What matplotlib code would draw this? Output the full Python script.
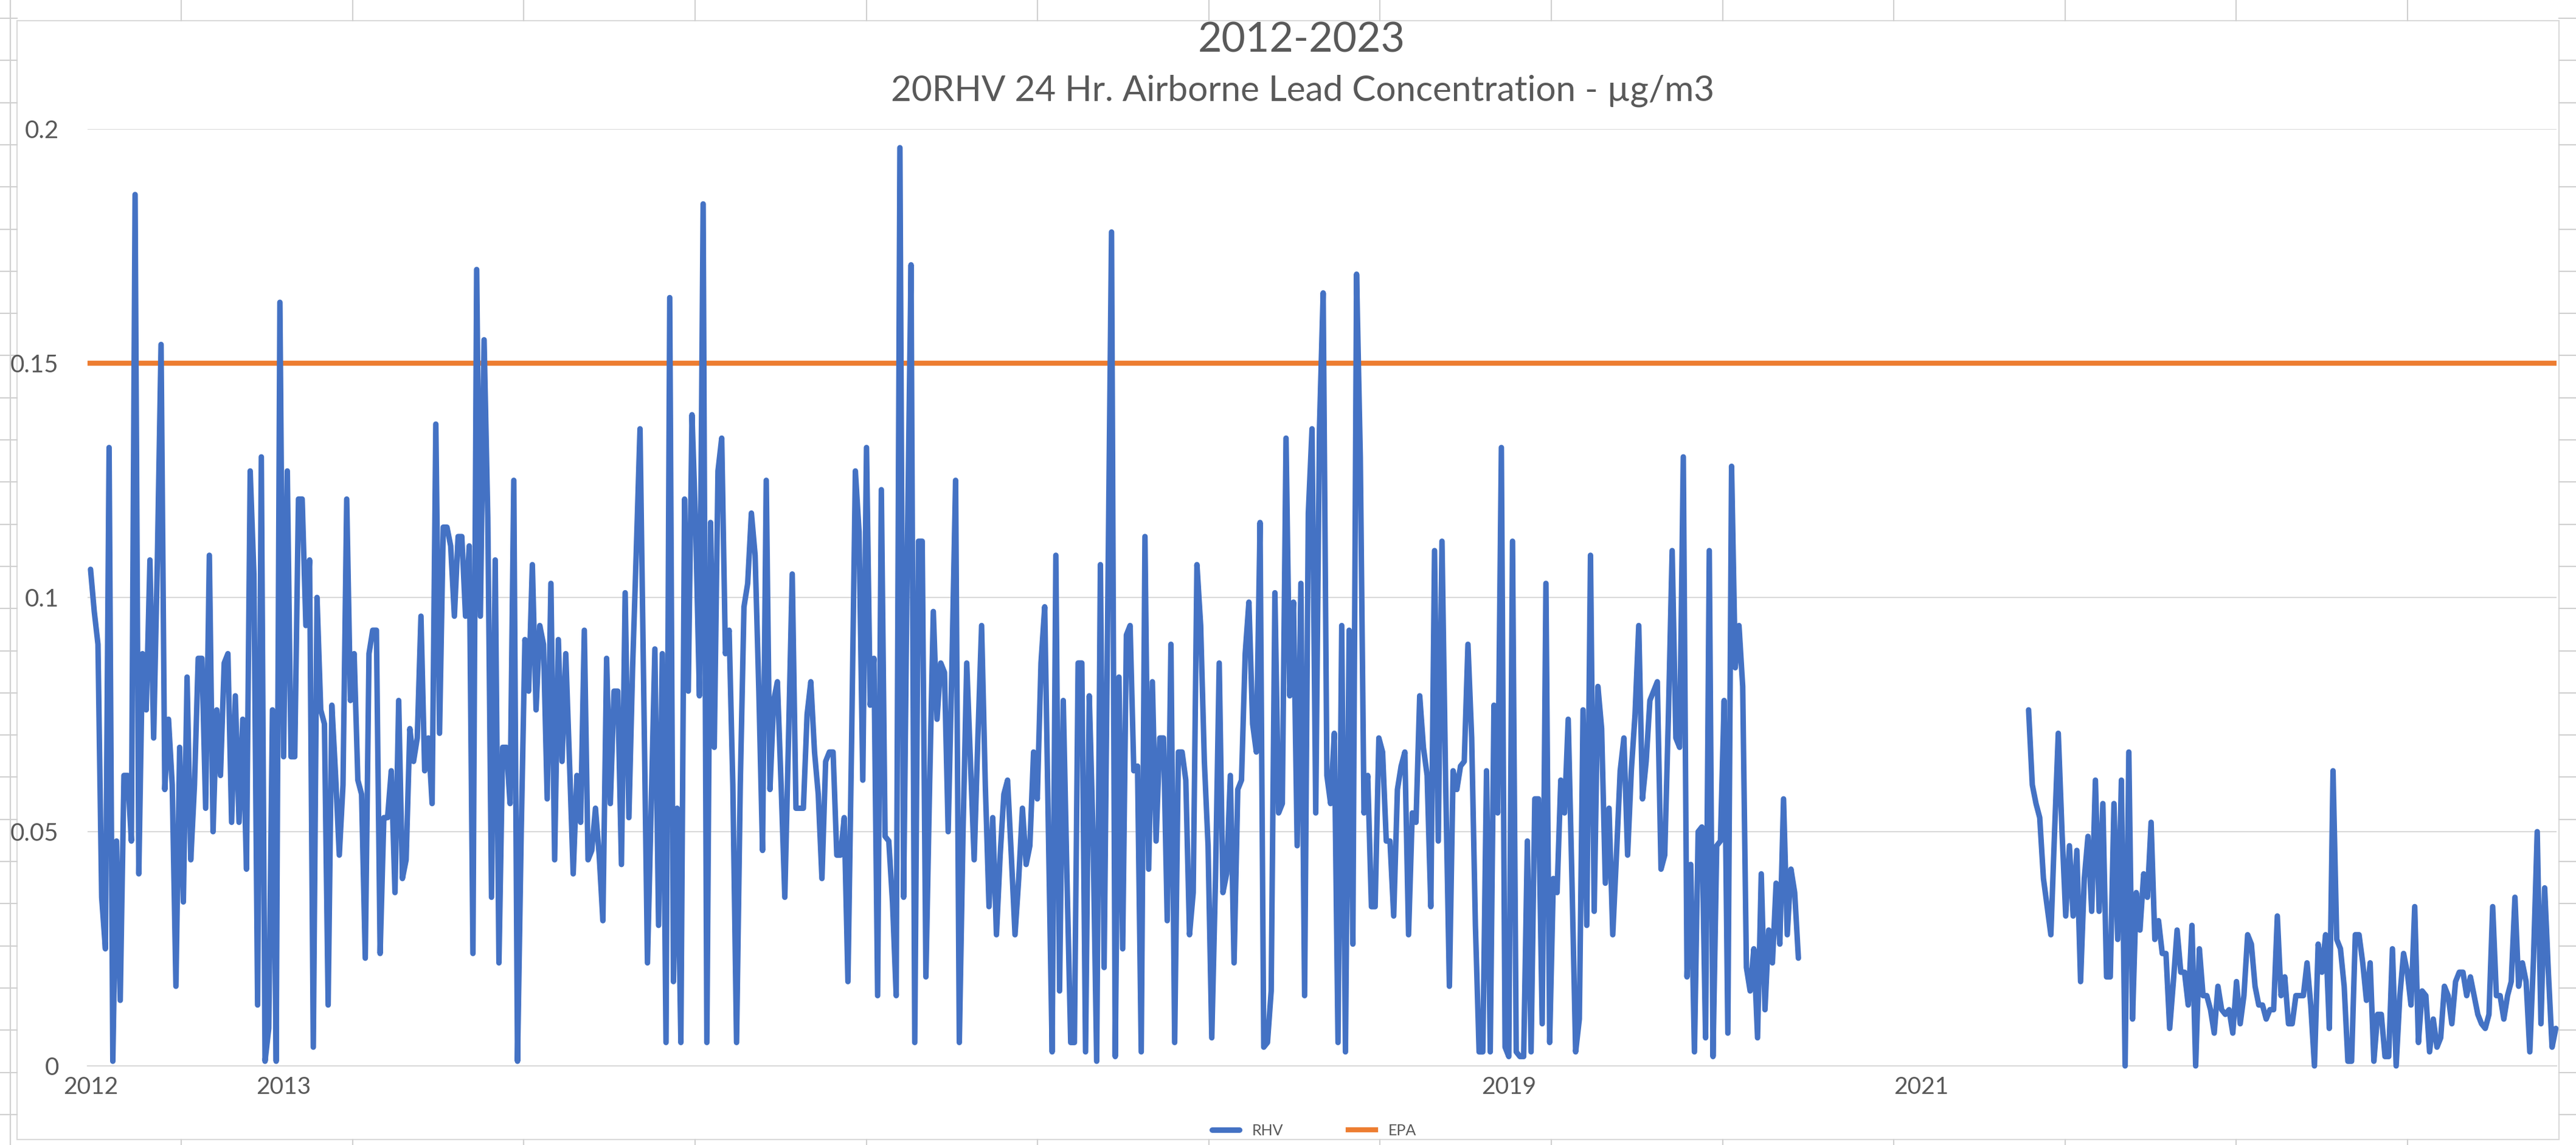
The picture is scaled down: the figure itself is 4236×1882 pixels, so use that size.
import numpy as np
import matplotlib
matplotlib.use('Agg')
import matplotlib.pyplot as plt
from matplotlib.patches import Rectangle

plt.rcParams['font.family'] = ['Lato', 'DejaVu Sans']

# 24 hr RHV samples (ug/m3) in order
rhv_2012 = [0.106, 0.097, 0.090, 0.036, 0.025, 0.132, 0.001, 0.048, 0.014, 0.062,
            0.062, 0.048, 0.186, 0.041, 0.088, 0.076, 0.108, 0.070, 0.108, 0.154,
            0.059, 0.074, 0.060, 0.017, 0.068, 0.035, 0.083, 0.044, 0.060, 0.087,
            0.087, 0.055, 0.109, 0.050, 0.076, 0.062, 0.086, 0.088, 0.052, 0.079,
            0.052, 0.074, 0.042, 0.127, 0.105, 0.013, 0.130, 0.001, 0.008, 0.076,
            0.001, 0.163, 0.066, 0.127, 0.066, 0.066, 0.121]
rhv_2013 = [0.121, 0.094, 0.108, 0.004, 0.100, 0.076, 0.073, 0.013, 0.077,
            0.062, 0.045, 0.060, 0.121, 0.078, 0.088, 0.061, 0.058, 0.023, 0.088,
            0.093, 0.093, 0.024, 0.053, 0.053, 0.063, 0.037, 0.078, 0.040,
            0.044, 0.072, 0.065, 0.070, 0.096, 0.063, 0.070, 0.056, 0.137, 0.071,
            0.115, 0.115, 0.111, 0.096, 0.113, 0.113, 0.096, 0.111, 0.024, 0.170,
            0.096, 0.155, 0.117, 0.036, 0.108, 0.022, 0.068, 0.068]
rhv_2014 = [0.056, 0.125, 0.001, 0.050, 0.091, 0.080, 0.107, 0.076, 0.094,
            0.090, 0.057, 0.103, 0.044, 0.091, 0.065, 0.088, 0.065,
            0.041, 0.062, 0.052, 0.093, 0.044, 0.046, 0.055, 0.045, 0.031,
            0.087, 0.056, 0.080, 0.080, 0.043, 0.101, 0.053, 0.085, 0.110,
            0.136, 0.080, 0.022, 0.055, 0.089, 0.030, 0.088, 0.005, 0.164, 0.018,
            0.055, 0.005, 0.121, 0.080, 0.139, 0.115, 0.079, 0.184, 0.005, 0.116]
rhv_2015 = [0.068, 0.127, 0.134, 0.088, 0.093, 0.060, 0.005, 0.060, 0.098, 0.103,
            0.118, 0.109, 0.080, 0.046, 0.125, 0.059, 0.078, 0.082, 0.060, 0.036,
            0.070, 0.105, 0.055, 0.055, 0.055, 0.075, 0.082, 0.067, 0.058, 0.040,
            0.065, 0.067, 0.067, 0.045, 0.045, 0.053, 0.018, 0.070, 0.127, 0.114,
            0.061, 0.132, 0.077, 0.087, 0.015, 0.123, 0.049, 0.048, 0.035, 0.015,
            0.196, 0.036, 0.110, 0.171, 0.005, 0.112, 0.112, 0.019]
rhv_2016 = [0.060, 0.097, 0.074, 0.086, 0.084, 0.050, 0.085, 0.125, 0.005, 0.050,
            0.086, 0.065, 0.044, 0.070, 0.094, 0.060, 0.034, 0.053, 0.028, 0.045,
            0.058, 0.061, 0.045, 0.028, 0.040, 0.055, 0.043, 0.047, 0.067, 0.057,
            0.086, 0.098, 0.050, 0.003, 0.109, 0.016, 0.078, 0.040, 0.005, 0.005,
            0.086, 0.086, 0.003, 0.079, 0.050, 0.001, 0.107, 0.021, 0.100, 0.178,
            0.002, 0.083, 0.025, 0.092, 0.094, 0.063, 0.064, 0.003]
rhv_2017 = [0.113, 0.042, 0.082, 0.048, 0.070, 0.070, 0.031, 0.090, 0.005, 0.067,
            0.067, 0.061, 0.028, 0.037, 0.107, 0.094, 0.065, 0.047, 0.006, 0.040,
            0.086, 0.037, 0.041, 0.062, 0.022, 0.059, 0.061, 0.088, 0.099, 0.073,
            0.067, 0.116, 0.004, 0.005, 0.016, 0.101, 0.054, 0.056, 0.134, 0.079,
            0.099, 0.047, 0.103, 0.015, 0.118, 0.136, 0.054, 0.136, 0.165, 0.062,
            0.056, 0.071, 0.005, 0.094, 0.003, 0.093]
rhv_2018 = [0.026, 0.169, 0.130, 0.054, 0.062, 0.034, 0.034, 0.070, 0.067, 0.048,
            0.048, 0.032, 0.059, 0.064, 0.067, 0.028, 0.054, 0.052, 0.079, 0.068,
            0.062, 0.034, 0.110, 0.048, 0.112, 0.060, 0.017, 0.063, 0.059, 0.064,
            0.065, 0.090, 0.070, 0.030, 0.003, 0.003, 0.063, 0.003, 0.077, 0.054,
            0.132, 0.004, 0.002, 0.112, 0.003, 0.002, 0.002, 0.048, 0.003, 0.057,
            0.057, 0.009, 0.103, 0.005, 0.040]
rhv_2019 = [0.037, 0.061, 0.054, 0.074, 0.040, 0.003, 0.010, 0.076, 0.030, 0.109,
            0.033, 0.081, 0.072, 0.039, 0.055, 0.028, 0.045, 0.063, 0.070, 0.045,
            0.063, 0.075, 0.094, 0.057, 0.065, 0.078, 0.080, 0.082, 0.042, 0.045,
            0.075, 0.110, 0.070, 0.068, 0.130, 0.019, 0.043, 0.003, 0.050, 0.051,
            0.006, 0.110, 0.002, 0.047, 0.048, 0.078, 0.007, 0.128, 0.085, 0.094,
            0.081, 0.021, 0.016, 0.025, 0.006, 0.041, 0.012, 0.029, 0.022, 0.039,
            0.026, 0.057, 0.028, 0.042, 0.037, 0.023]
missing_samples = 61
rhv_2021_2023 = [0.076, 0.060, 0.056, 0.053, 0.040, 0.034, 0.028, 0.050, 0.071, 0.050,
                 0.032, 0.047, 0.032, 0.046, 0.018, 0.040, 0.049, 0.033, 0.061, 0.033,
                 0.056, 0.019, 0.019, 0.056, 0.027, 0.061, 0.000, 0.067, 0.010, 0.037,
                 0.029, 0.041, 0.036, 0.052, 0.027, 0.031, 0.024, 0.024, 0.008, 0.018,
                 0.029, 0.020, 0.020, 0.013, 0.030, 0.000, 0.025, 0.015, 0.015, 0.012,
                 0.007, 0.017, 0.012, 0.011, 0.012, 0.007, 0.018, 0.009, 0.015, 0.028,
                 0.026, 0.017, 0.013, 0.013, 0.010, 0.012, 0.012, 0.032, 0.015, 0.019,
                 0.009, 0.009, 0.015, 0.015, 0.015, 0.022, 0.013, 0.000, 0.026, 0.020,
                 0.028, 0.008, 0.063, 0.027, 0.025, 0.017, 0.001, 0.001, 0.028, 0.028,
                 0.022, 0.014, 0.022, 0.001, 0.011, 0.011, 0.002, 0.002, 0.025, 0.000,
                 0.015, 0.024, 0.020, 0.013, 0.034, 0.005, 0.016, 0.015, 0.003, 0.010,
                 0.004, 0.006, 0.017, 0.015, 0.009, 0.018, 0.020, 0.020, 0.015, 0.019,
                 0.015, 0.011, 0.009, 0.008, 0.011, 0.034, 0.015, 0.015, 0.010, 0.015,
                 0.018, 0.036, 0.017, 0.022, 0.018, 0.003, 0.023, 0.050, 0.009, 0.038,
                 0.020, 0.004, 0.008]

epa_limit = 0.15
year_ticks = [0, 52, 382, 493]
year_labels = ['2012', '2013', '2019', '2021']
y_ticks = [0, 0.05, 0.1, 0.15, 0.2]
y_labels = ['0', '0.05', '0.1', '0.15', '0.2']

rhv = np.array(rhv_2012 + rhv_2013 + rhv_2014 + rhv_2015 + rhv_2016 + rhv_2017
               + rhv_2018 + rhv_2019 + [np.nan] * missing_samples + rhv_2021_2023)
idx = np.arange(len(rhv))

W, H = 4236, 1882
fig = plt.figure(figsize=(W / 100, H / 100), dpi=100)
fig.patch.set_facecolor('white')

# spreadsheet cells peeking around the chart object
bg = fig.add_axes([0, 0, 1, 1])
bg.set_xlim(0, W)
bg.set_ylim(H, 0)
bg.axis('off')
cell = '#d0d0d0'
for k in range(0, 16):
    cx = 16.5 + 281.6 * k
    if k == 0:
        bg.plot([cx, cx], [0, H], color=cell, lw=1.5)
    else:
        bg.plot([cx, cx], [0, 34], color=cell, lw=1.5)
        bg.plot([cx, cx], [1873, H], color=cell, lw=1.5)
for k in range(0, 27):
    cy = 30 + 69.3 * k
    bg.plot([0, 28], [cy, cy], color=cell, lw=1.5)
    bg.plot([4208, W], [cy, cy], color=cell, lw=1.5)
bg.add_patch(Rectangle((28, 34), 4180, 1839, facecolor='white',
                       edgecolor='#d9d9d9', lw=1.5))

ax = fig.add_axes([144 / W, 1 - 1752 / H, (4204 - 144) / W, (1752 - 212) / H])
ax.patch.set_alpha(0)

ax.plot(idx, rhv, color='#4472C4', lw=6.5, solid_joinstyle='round',
        solid_capstyle='round', clip_on=False, label='RHV', zorder=3)
ax.axhline(epa_limit, color='#ED7D31', lw=6, label='EPA', zorder=2)

ax.set_xlim(-0.8, len(rhv) - 0.8)
ax.set_ylim(0, 0.2)
ax.set_yticks(y_ticks, y_labels)
ax.set_xticks(year_ticks, year_labels)
ax.grid(axis='y', color='#d9d9d9', lw=1.5)
ax.set_axisbelow(True)
ax.tick_params(length=0, labelcolor='#595959')
ax.tick_params(axis='y', pad=34, labelsize=29)
ax.tick_params(axis='x', pad=12, labelsize=28)
for s in ['left', 'right', 'top']:
    ax.spines[s].set_visible(False)
ax.spines['bottom'].set_color('#d9d9d9')
ax.spines['bottom'].set_linewidth(1.5)

fig.text(2140 / W, 1 - 66 / H, '2012-2023', ha='center', va='center',
         fontsize=49, color='#595959')
fig.text(2142 / W, 1 - 149 / H, '20RHV 24 Hr. Airborne Lead Concentration - µg/m3',
         ha='center', va='center', fontsize=42, color='#595959')

fig.legend(loc='center', bbox_to_anchor=(2161 / W, 1 - 1858 / H), ncol=2,
           frameon=False, fontsize=18, handlelength=1.8, columnspacing=4.3,
           labelcolor='#595959')

fig.savefig('out.png', dpi=100)
